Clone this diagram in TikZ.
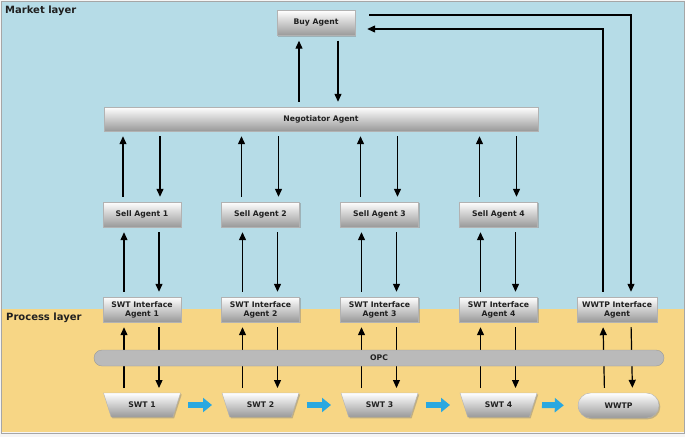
\documentclass[tikz,border=0pt]{standalone}
\usepackage{fontspec}
\setmainfont{DejaVu Sans}
\usetikzlibrary{shapes.geometric,shapes.misc,shadows,arrows.meta}
\definecolor{mkt}{HTML}{B6DCE7}
\definecolor{proc}{HTML}{F7D685}
\definecolor{flowc}{HTML}{29A8E0}
\definecolor{txt}{HTML}{202020}
\begin{document}
\begin{tikzpicture}[x=1pt,y=-1pt,
 agent/.style={draw=black!30, line width=0.4pt, top color=white, bottom color=black!40,
   minimum width=78pt, minimum height=25pt, inner sep=1pt,
   font=\fontsize{7.7}{8.8}\selectfont\bfseries, text=txt, align=center,
   drop shadow={shadow xshift=1.3pt,shadow yshift=-1.3pt,opacity=.45}},
 tank/.style={agent, trapezium, trapezium angle=65, shape border rotate=180,
   trapezium stretches=true, minimum width=77pt, minimum height=24pt},
 plant/.style={agent, rounded rectangle, minimum width=83pt, minimum height=25pt},
 bus/.style={rounded rectangle, draw=black!40, fill=black!27, line width=0.4pt,
   minimum width=570pt, minimum height=16pt, inner sep=0pt,
   font=\fontsize{7.7}{8.8}\selectfont\bfseries, text=txt},
 arr/.style={line width=1.2pt, -{Triangle[length=8pt,width=7pt]}, shorten <=5pt, shorten >=5pt},
 flowarr/.style={draw=flowc, line width=6pt, -{Triangle[length=9pt,width=14pt]}},
 layer/.style={font=\fontsize{10}{12}\selectfont\bfseries, text=txt, inner sep=0pt}
]
\useasboundingbox (0,0) rectangle (685,437);
% background
\fill[black!4] (0,0) rectangle (685,437);
\fill[mkt] (1,1) rectangle (684,309);
\fill[proc] (1,309) rectangle (684,432);
\draw[black!35, line width=0.8pt] (1,1) rectangle (684,433);

\node[layer, anchor=north west] (mlab) at (5,6) {Market layer};
\node[layer, anchor=west] (plab) at (6,318) {Process layer};

% market layer
\node[agent] (buy) at (316,23) {Buy Agent};
\node[agent, minimum width=434pt, minimum height=24pt] (neg) at (321,119) {Negotiator Agent};
\node[agent] (s1) at (142,214.5) {Sell Agent 1};
\node[agent] (s2) at (260.5,214.5) {Sell Agent 2};
\node[agent] (s3) at (379.5,214.5) {Sell Agent 3};
\node[agent] (s4) at (498.5,214.5) {Sell Agent 4};

% interface agents
\node[agent] (a1) at (142,309.5) {SWT Interface\\Agent 1};
\node[agent] (a2) at (260.5,309.5) {SWT Interface\\Agent 2};
\node[agent] (a3) at (379.5,309.5) {SWT Interface\\Agent 3};
\node[agent] (a4) at (498.5,309.5) {SWT Interface\\Agent 4};
\node[agent, minimum width=80pt] (wi) at (617,309.5) {WWTP Interface\\Agent};

% process units
\node[tank] (t1) at (142,405) {SWT 1};
\node[tank] (t2) at (260.5,405) {SWT 2};
\node[tank] (t3) at (379.5,405) {SWT 3};
\node[tank] (t4) at (498.5,405) {SWT 4};
\node[plant] (wp) at (618.5,405.5) {WWTP};

% buy <-> negotiator
\draw[arr] ([xshift=-17pt]buy.south |- neg.north) -- ([xshift=-17pt]buy.south);
\draw[arr] ([xshift=22pt]buy.south) -- ([xshift=22pt]buy.south |- neg.north);

% buy <-> WWTP interface
\draw[arr, shorten <=14pt] ([yshift=8pt]buy.east) -| ([xshift=14pt]wi.north);
\draw[arr, shorten >=12pt] ([xshift=-14pt]wi.north) |- ([yshift=-6pt]buy.east);

\foreach \i in {1,2,3,4}{
  \draw[arr] ([xshift=-19pt]s\i.north) -- ([xshift=-19pt]s\i.north |- neg.south);
  \draw[arr] ([xshift=18pt]s\i.north |- neg.south) -- ([xshift=18pt]s\i.north);
  \draw[arr] ([xshift=-18pt]a\i.north) -- ([xshift=-18pt]s\i.south);
  \draw[arr] ([xshift=17pt]s\i.south) -- ([xshift=17pt]a\i.north);
  \draw[arr] ([xshift=-18pt,yshift=12pt]t\i.center) -- ([xshift=-18pt]a\i.south);
  \draw[arr] ([xshift=17pt]a\i.south) -- ([xshift=17pt,yshift=12pt]t\i.center);
}
\draw[arr] ([xshift=-14pt]wp.north) -- ([xshift=-14pt]wi.south);
\draw[arr] ([xshift=14pt]wi.south) -- ([xshift=14pt]wp.north);

% OPC bus (on top of the arrows)
\node[bus] (opc) at (379,358) {OPC};

% material flow
\draw[flowarr] ([xshift=46pt]t1.center) -- ([xshift=-48.5pt]t2.center);
\draw[flowarr] ([xshift=46pt]t2.center) -- ([xshift=-48.5pt]t3.center);
\draw[flowarr] ([xshift=46pt]t3.center) -- ([xshift=-48.5pt]t4.center);
\draw[flowarr, shorten >=14pt] ([xshift=43.5pt]t4.center) -- (wp.west);
\end{tikzpicture}
\end{document}
